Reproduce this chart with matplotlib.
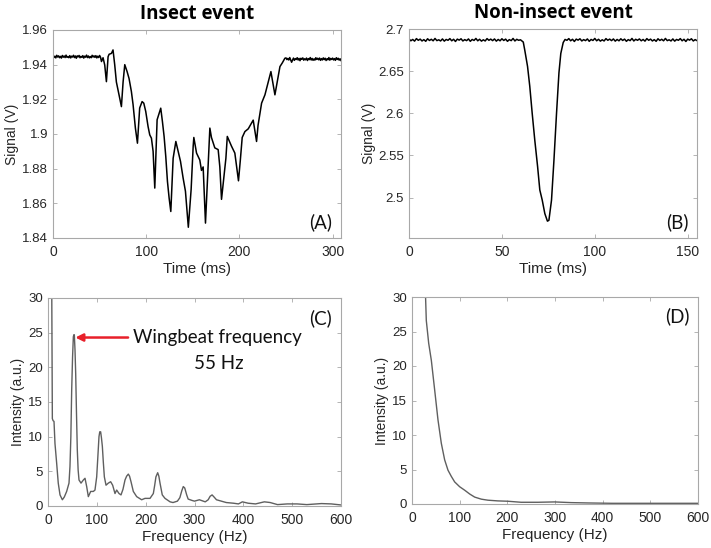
import matplotlib
matplotlib.use("Agg")
import matplotlib.pyplot as plt

# ---------------- data ----------------
# Panel A: insect event signal (time ms, signal V)
insect_base1_t = list(range(0, 52))
insect_base1_v = [1.9452, 1.9441, 1.9449, 1.9439, 1.9454, 1.9444, 1.9451, 1.9440, 1.9448, 1.9438,
                  1.9453, 1.9443, 1.9450, 1.9441, 1.9455, 1.9442, 1.9447, 1.9440, 1.9452, 1.9439,
                  1.9449, 1.9444, 1.9454, 1.9441, 1.9450, 1.9437, 1.9451, 1.9445, 1.9453, 1.9440,
                  1.9448, 1.9442, 1.9452, 1.9438, 1.9449, 1.9443, 1.9455, 1.9441, 1.9450, 1.9439,
                  1.9447, 1.9440, 1.9454, 1.9444, 1.9451, 1.9442, 1.9452, 1.9439, 1.9449, 1.9441,
                  1.9453, 1.9443]
insect_event_t = [52, 53.7, 55.5, 57.3, 59.1, 60.2, 62.7, 64.4, 66.2, 68, 69.8, 71.6, 73.4, 75.2,
                  77, 79.5, 81.6, 84.1, 85.9, 88.4, 90.6, 93, 95.6, 97.4, 99.5, 102, 103.8, 105.6,
                  107.4, 109.2, 111.7, 113.9, 115.6, 117.4, 119.2, 121, 122.8, 124.6, 126.4, 128.9,
                  131.8, 134.3, 136.8, 139.6, 142.1, 145.2, 148.2, 150.4, 151.1, 154, 157.5, 159.3,
                  161.1, 163.6, 168.3, 170, 173.6, 177.2, 179, 180.8, 185.5, 187, 191.5, 195.1, 199,
                  201, 203, 205.9, 209.5, 214.8, 218.4, 220, 223.8, 227.4, 230.5, 233.8, 238.1,
                  243.5, 246, 248.8]
insect_event_v = [1.9418, 1.9440, 1.9398, 1.9302, 1.9446, 1.9460, 1.9465, 1.9485, 1.9400, 1.9300,
                  1.9254, 1.9206, 1.9158, 1.9300, 1.9400, 1.9360, 1.9320, 1.9245, 1.9170, 1.9034,
                  1.8947, 1.9150, 1.9187, 1.9178, 1.9130, 1.9043, 1.8995, 1.8976, 1.8900, 1.8688,
                  1.9082, 1.9120, 1.9149, 1.9072, 1.8986, 1.8870, 1.8726, 1.8630, 1.8553, 1.8860,
                  1.8957, 1.8900, 1.8842, 1.8746, 1.8670, 1.8462, 1.8680, 1.8930, 1.8980, 1.8890,
                  1.8850, 1.8790, 1.8810, 1.8486, 1.9034, 1.8980, 1.8920, 1.8910, 1.8810, 1.8623,
                  1.8860, 1.8986, 1.8930, 1.8890, 1.8730, 1.8850, 1.8980, 1.9014, 1.9030, 1.9080,
                  1.8957, 1.9050, 1.9178, 1.9226, 1.9290, 1.9360, 1.9226, 1.9389, 1.9410, 1.9437]
insect_base2_t = list(range(250, 310))
insect_base2_v = [1.9439, 1.9429, 1.9436, 1.9427, 1.9441, 1.9428, 1.9414, 1.9426, 1.9438, 1.9425,
                  1.9435, 1.9430, 1.9440, 1.9427, 1.9436, 1.9423, 1.9437, 1.9431, 1.9439, 1.9426,
                  1.9434, 1.9428, 1.9438, 1.9424, 1.9435, 1.9429, 1.9441, 1.9427, 1.9436, 1.9425,
                  1.9433, 1.9426, 1.9440, 1.9430, 1.9437, 1.9428, 1.9438, 1.9425, 1.9435, 1.9427,
                  1.9439, 1.9429, 1.9437, 1.9424, 1.9434, 1.9428, 1.9441, 1.9426, 1.9436, 1.9430,
                  1.9438, 1.9427, 1.9435, 1.9425, 1.9440, 1.9430, 1.9437, 1.9426, 1.9434, 1.9424]

# Panel B: non-insect event signal
non_base1_t = list(range(0, 61))
non_base1_v = [2.6882, 2.6860, 2.6876, 2.6856, 2.6886, 2.6866, 2.6880, 2.6858, 2.6874, 2.6854,
               2.6884, 2.6864, 2.6878, 2.6860, 2.6888, 2.6862, 2.6872, 2.6858, 2.6882, 2.6856,
               2.6876, 2.6866, 2.6886, 2.6860, 2.6878, 2.6852, 2.6880, 2.6868, 2.6884, 2.6858,
               2.6874, 2.6862, 2.6882, 2.6854, 2.6876, 2.6864, 2.6888, 2.6860, 2.6878, 2.6856,
               2.6872, 2.6858, 2.6886, 2.6866, 2.6880, 2.6862, 2.6882, 2.6856, 2.6876, 2.6860,
               2.6884, 2.6864, 2.6880, 2.6854, 2.6874, 2.6862, 2.6888, 2.6858, 2.6878, 2.6866,
               2.6872]
non_event_t = [61.5, 62.3, 63.8, 65, 66.3, 67.7, 69.2, 70.4, 71.7, 73.1, 74.5, 75.3, 76.7, 78,
               79.4, 80.7, 81.7, 83]
non_event_v = [2.6845, 2.6750, 2.6556, 2.6320, 2.6000, 2.5680, 2.5370, 2.5090, 2.4970, 2.4810,
               2.4720, 2.4730, 2.4970, 2.5440, 2.6000, 2.6480, 2.6710, 2.6840]
non_base2_t = list(range(84, 156))
non_base2_v = [2.6876, 2.6866, 2.6886, 2.6860, 2.6878, 2.6852, 2.6880, 2.6868, 2.6884, 2.6858,
               2.6874, 2.6862, 2.6882, 2.6854, 2.6876, 2.6864, 2.6888, 2.6860, 2.6878, 2.6856,
               2.6872, 2.6858, 2.6886, 2.6866, 2.6880, 2.6862, 2.6882, 2.6856, 2.6876, 2.6860,
               2.6884, 2.6864, 2.6880, 2.6854, 2.6874, 2.6862, 2.6888, 2.6858, 2.6878, 2.6866,
               2.6882, 2.6860, 2.6876, 2.6856, 2.6886, 2.6866, 2.6880, 2.6858, 2.6874, 2.6854,
               2.6884, 2.6864, 2.6878, 2.6860, 2.6888, 2.6862, 2.6872, 2.6858, 2.6882, 2.6856,
               2.6876, 2.6866, 2.6886, 2.6860, 2.6878, 2.6852, 2.6880, 2.6868, 2.6884, 2.6858,
               2.6874, 2.6862]

# Panel C: insect event spectrum (Hz, a.u.)
insect_f = [7.5, 8.9, 10.5, 12.3, 14.3, 17.7, 21, 24.6, 29.4, 33.4, 38.2, 43, 45, 46.8, 48.5,
            50.3, 51.9, 53, 53.9, 55.3, 56.7, 58.3, 60, 61.7, 63.5, 67.6, 72.4, 75.8, 79.2, 82.6,
            87.4, 92.8, 96.2, 99.7, 102, 104.4, 106, 107.8, 109.5, 111.3, 113.3, 115.4, 118.8,
            123.5, 128.3, 132.4, 137.2, 140.6, 145.4, 149.5, 153.5, 157.7, 161, 164.5, 167, 170,
            174.7, 181.6, 191.8, 198.6, 208.9, 215.7, 218.5, 221, 224.6, 227, 229.4, 234, 239.6,
            250, 256, 265, 270, 274, 277, 280, 284, 287, 295, 300, 310, 322, 328, 332, 336, 340,
            345, 350, 365, 380, 390, 398, 410, 425, 443, 455, 470, 490, 510, 530, 560, 580, 600]
insect_i = [34, 12.6, 12.3, 12.2, 9, 6.2, 3.3, 1.6, 0.9, 1.3, 2.1, 3.3, 5.7, 10, 16.7, 21.5,
            24.4, 24.7, 24.7, 22.5, 19.1, 13.5, 8.1, 5.2, 3.75, 3.3, 3.75, 4.0, 2.8, 1.35, 2.1,
            2.1, 2.3, 4.2, 7, 10, 10.7, 10.7, 9.8, 8.6, 6.3, 4.2, 3.0, 3.3, 3.5, 3.0, 1.8, 2.3,
            1.8, 1.6, 2.4, 3.75, 4.3, 4.6, 4.3, 3.5, 2.1, 1.35, 0.9, 1.1, 1.1, 1.8, 3.0, 4.2, 4.8,
            4.3, 3.3, 1.6, 1.1, 0.6, 0.5, 0.7, 1.2, 2.2, 2.8, 2.6, 1.6, 1.0, 0.8, 0.7, 0.9, 0.6,
            0.9, 1.4, 1.6, 1.3, 0.9, 0.8, 0.5, 0.4, 0.3, 0.6, 0.4, 0.3, 0.6, 0.5, 0.2, 0.3, 0.3,
            0.2, 0.35, 0.3, 0.15]

# Panel D: non-insect event spectrum
non_f = [28, 30, 35, 40.6, 47.6, 54.5, 61.5, 68.5, 75.5, 82.5, 89.5, 100, 110.5, 121, 131.5,
         145.5, 159.4, 180, 201, 229, 264, 299, 334, 370, 420, 500, 600]
non_i = [31, 26.6, 23.3, 20.8, 16.5, 12.2, 8.8, 6.4, 4.9, 4.0, 3.2, 2.5, 2.0, 1.45, 1.0, 0.7,
         0.55, 0.45, 0.4, 0.25, 0.25, 0.3, 0.2, 0.15, 0.1, 0.1, 0.1]

titles = ["Insect event", "Non-insect event"]
panel_labels = ["(A)", "(B)", "(C)", "(D)"]
annot_line1 = "Wingbeat frequency"
annot_line2 = "55 Hz"
peak_freq, peak_level, text_freq = 56, 24.3, 164

# ---------------- figure ----------------
W, H = 711, 548
fig = plt.figure(figsize=(W / 100, H / 100), dpi=100)
plt.rcParams['font.family'] = ['Liberation Sans', 'DejaVu Sans']

def px_axes(l, r, t, b):
    return fig.add_axes([l / W, 1 - b / H, (r - l) / W, (b - t) / H])

axA = px_axes(53, 341, 30, 238)
axB = px_axes(409, 697, 29, 238)
axC = px_axes(48, 341, 298, 506)
axD = px_axes(412, 698, 297, 504)

tick_col = '#262626'
spine_col = '#a8a8a8'
for ax in (axA, axB, axC, axD):
    for s in ax.spines.values():
        s.set_color(spine_col)
        s.set_linewidth(0.8)
    ax.tick_params(direction='in', top=True, right=True, length=3, width=0.6,
                   colors=spine_col, labelcolor=tick_col, pad=3)
    ax.tick_params(axis='x', labelsize=10, pad=5)
    ax.tick_params(axis='y', labelsize=9.5, pad=3.5)

lab_kw = dict(color=tick_col)

# Panel A
axA.plot(insect_base1_t + insect_event_t + insect_base2_t,
         insect_base1_v + insect_event_v + insect_base2_v, color='black', lw=1.1)
axA.set_xlim(0, 309)
axA.set_ylim(1.84, 1.96)
axA.set_xticks([0, 100, 200, 300])
axA.set_yticks([1.84, 1.86, 1.88, 1.90, 1.92, 1.94, 1.96])
axA.set_yticklabels(["1.84", "1.86", "1.88", "1.9", "1.92", "1.94", "1.96"])
axA.set_xlabel("Time (ms)", fontsize=11, labelpad=2.5, **lab_kw)
axA.set_ylabel("Signal (V)", fontsize=10, labelpad=2, **lab_kw)

# Panel B
axB.plot(non_base1_t + non_event_t + non_base2_t,
         non_base1_v + non_event_v + non_base2_v, color='black', lw=1.1)
axB.set_xlim(0, 155)
axB.set_ylim(2.452, 2.7)
axB.set_xticks([0, 50, 100, 150])
axB.set_yticks([2.5, 2.55, 2.6, 2.65, 2.7])
axB.set_yticklabels(["2.5", "2.55", "2.6", "2.65", "2.7"])
axB.set_xlabel("Time (ms)", fontsize=11, labelpad=2.5, **lab_kw)
axB.set_ylabel("Signal (V)", fontsize=10, labelpad=2, **lab_kw)

# Panel C
axC.plot(insect_f, insect_i, color='#5f5f5f', lw=1.0)
axC.set_xlim(0, 600)
axC.set_ylim(0, 30)
axC.set_xticks(range(0, 601, 100))
axC.set_yticks(range(0, 31, 5))
axC.set_xlabel("Frequency (Hz)", fontsize=11, labelpad=2.5, **lab_kw)
axC.set_ylabel("Intensity (a.u.)", fontsize=10, labelpad=2, **lab_kw)

# Panel D
axD.plot(non_f, non_i, color='#5f5f5f', lw=1.0)
axD.set_xlim(0, 600)
axD.set_ylim(0, 30)
axD.set_xticks(range(0, 601, 100))
axD.set_yticks(range(0, 31, 5))
axD.set_xlabel("Frequency (Hz)", fontsize=11, labelpad=2.5, **lab_kw)
axD.set_ylabel("Intensity (a.u.)", fontsize=10, labelpad=2, **lab_kw)

# titles
axA.set_title(titles[0], fontsize=13.5, fontweight='bold', family='Open Sans', pad=8)
axB.set_title(titles[1], fontsize=13.5, fontweight='bold', family='Open Sans', pad=8)

# panel labels
for ax, lab, y in ((axA, panel_labels[0], 0.075), (axB, panel_labels[1], 0.075),
                   (axC, panel_labels[2], 0.905), (axD, panel_labels[3], 0.905)):
    ax.text(0.97, y, lab, transform=ax.transAxes, ha='right', va='center',
            fontsize=13.5, family='Lato', color='#111111')

# annotation
axC.annotate("", xy=(peak_freq, peak_level), xytext=(text_freq, peak_level),
             arrowprops=dict(arrowstyle='-|>', color='#e8202a', lw=1.8,
                             mutation_scale=11, shrinkA=0, shrinkB=0))
axC.text(text_freq + 10, peak_level, annot_line1, fontsize=13.5, family='Lato',
         va='center', ha='left', color='#111111')
axC.text(349, 20.6, annot_line2, fontsize=13.5, family='Lato', va='center', ha='center',
         color='#111111')

fig.savefig("out.png", dpi=100)
